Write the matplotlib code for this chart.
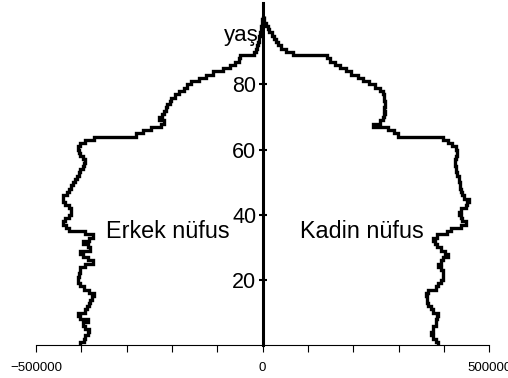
import numpy as np
import matplotlib.pyplot as plt
from matplotlib.ticker import MultipleLocator

plt.rcParams['font.family'] = ['Liberation Sans', 'DejaVu Sans']

# yaş 0..100, tek yıllık gruplar
ages = np.arange(0, 102)

# erkek nüfus (bin kişi)
male_k = [
    402, 395, 391, 386, 384, 391, 397, 386, 402, 408,
    393, 388, 384, 382, 377, 373, 384, 395, 404, 408,
    408, 406, 404, 402, 393, 375, 386, 397, 402, 380,
    386, 397, 384, 375, 391, 428, 435, 441, 437, 428,
    424, 424, 428, 437, 441, 441, 432, 428, 424, 419,
    415, 410, 406, 402, 397, 395, 393, 397, 402, 406,
    408, 402, 391, 373, 280, 265, 247, 225, 218, 229,
    223, 218, 214, 210, 205, 203, 194, 185, 174, 166,
    157, 141, 126, 110, 88, 73, 60, 53, 49, 20,
    15, 12, 10, 8, 7, 6, 4, 3, 2, 1, 0,
]

# kadın nüfus (bin kişi)
female_k = [
    388, 382, 375, 371, 375, 377, 382, 382, 384, 386,
    377, 371, 366, 362, 362, 360, 366, 382, 388, 393,
    397, 399, 397, 393, 386, 393, 399, 408, 402, 393,
    384, 380, 377, 384, 406, 415, 437, 448, 441, 437,
    433, 437, 448, 452, 455, 444, 439, 437, 435, 435,
    433, 433, 430, 426, 426, 424, 424, 426, 430, 428,
    426, 419, 410, 397, 298, 289, 276, 243, 260, 265,
    267, 269, 267, 269, 269, 267, 267, 265, 260, 247,
    234, 221, 210, 196, 185, 170, 159, 148, 141, 66,
    51, 40, 33, 29, 24, 20, 15, 11, 7, 4, 2,
]

male = -np.array(male_k) * 1000
female = np.array(female_k) * 1000

fig = plt.figure(figsize=(5.08, 3.78), dpi=100)
ax = fig.add_axes([0.071, 0.087, 0.892, 0.905])

ax.stairs(male, ages, orientation='horizontal', baseline=None, color='black', lw=2.4)
ax.stairs(female, ages, orientation='horizontal', baseline=None, color='black', lw=2.4)

ax.set_xlim(-500000, 500000)
ax.set_ylim(0, 105)

ax.spines['top'].set_visible(False)
ax.spines['right'].set_visible(False)
ax.spines['left'].set_position(('data', 0))
ax.spines['left'].set_linewidth(2.2)
ax.spines['bottom'].set_linewidth(0.8)

ax.set_xticks([-500000, 0, 500000])
ax.set_xticklabels(['\u2212500000', '0', '500000'])
ax.xaxis.set_minor_locator(MultipleLocator(100000))
ax.tick_params(axis='x', which='both', direction='out', length=5, width=0.8, labelsize=9.5, pad=7)

ax.set_yticks([20, 40, 60, 80])
ax.tick_params(axis='y', direction='inout', length=6, width=1.5, labelsize=15.5, pad=1.5)

ax.text(-9000, 95, 'yaş', ha='right', va='center', fontsize=16)
ax.text(-210000, 34.8, 'Erkek nüfus', ha='center', va='center', fontsize=16.8)
ax.text(220000, 34.8, 'Kadin nüfus', ha='center', va='center', fontsize=16.8)

fig.savefig('out.png', dpi=100)
